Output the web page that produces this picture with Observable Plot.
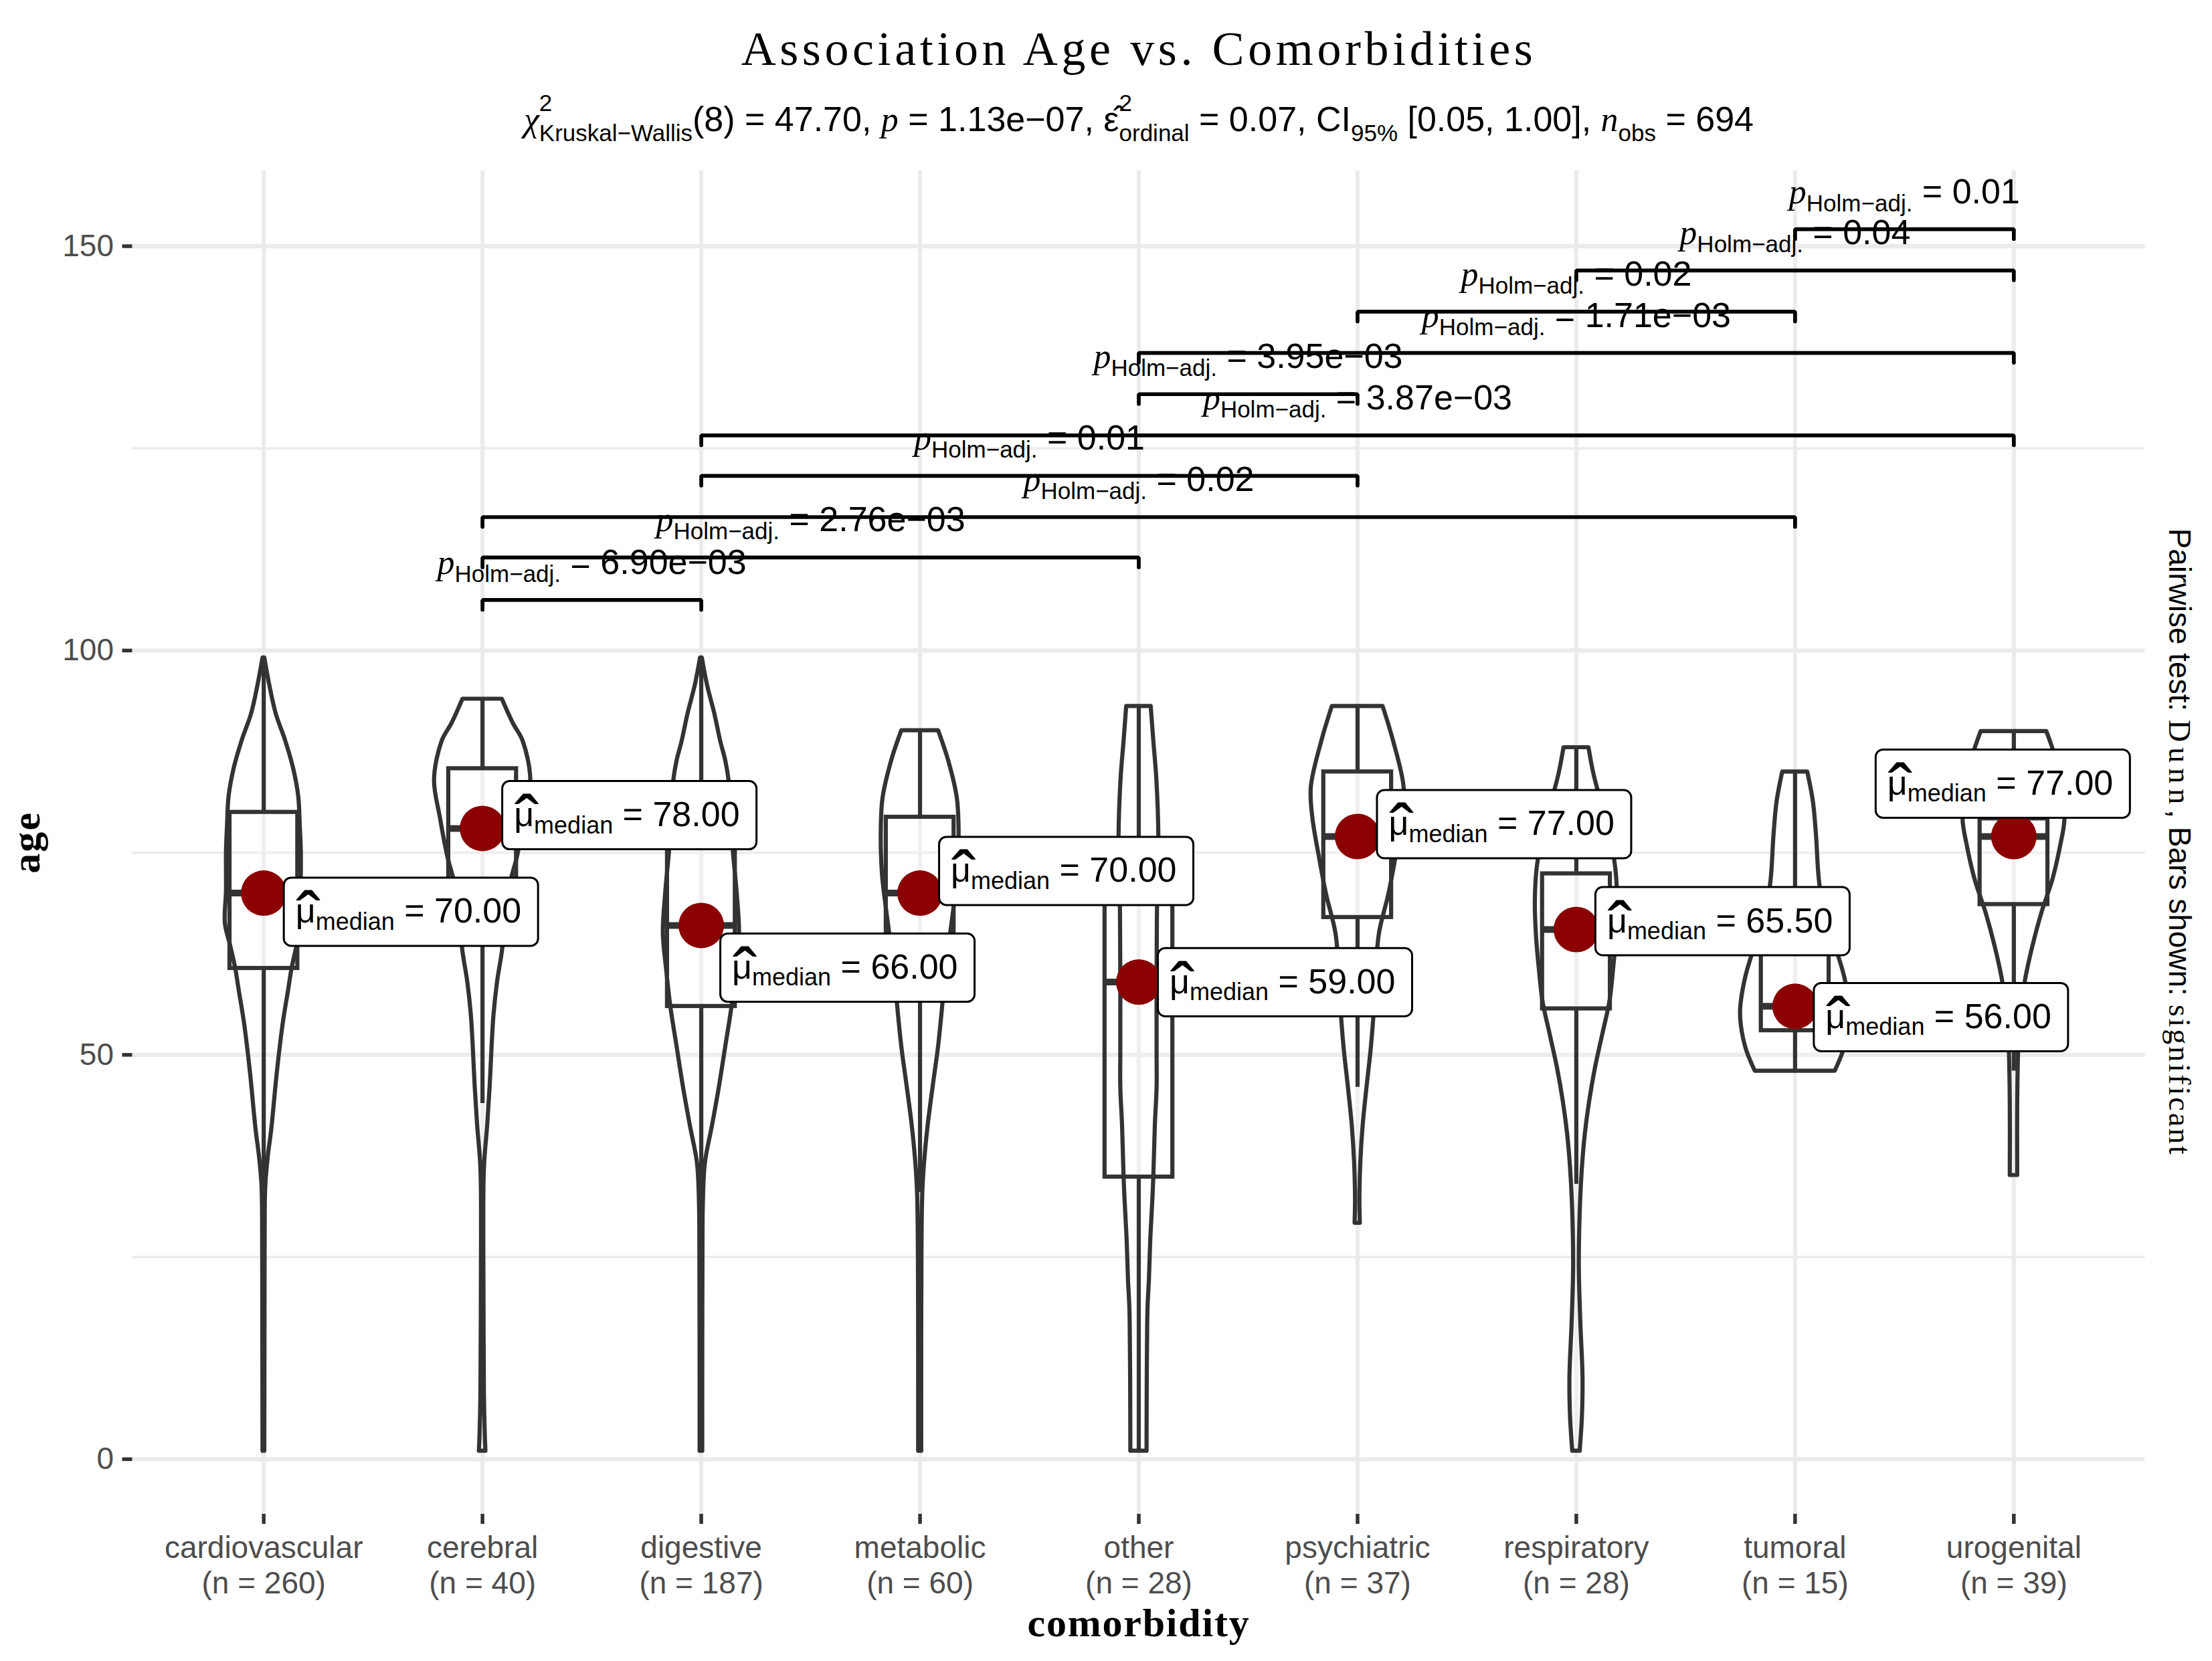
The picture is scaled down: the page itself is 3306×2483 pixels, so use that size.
<!DOCTYPE html>
<html><head><meta charset="utf-8">
<script src="https://cdn.jsdelivr.net/npm/d3@7"></script>
<script src="https://cdn.jsdelivr.net/npm/@observablehq/plot@0.6"></script>
<style>html,body{margin:0;padding:0;background:#fff;overflow:hidden} #chart svg{display:block}</style>
</head><body><div id="chart"></div>
<script>
// ---------------- DATA ----------------
const categories = ["cardiovascular","cerebral","digestive","metabolic","other","psychiatric","respiratory","tumoral","urogenital"];
const counts     = [260, 40, 187, 60, 28, 37, 28, 15, 39];
const medians    = [70, 78, 66, 70, 59, 77, 65.5, 56, 77];
const q1         = [60.7, 67, 56, 60, 34.9, 67, 55.7, 53, 68.6];
const q3         = [80, 85.4, 77, 79.4, 72, 85, 72.4, 63, 79.2];
const whiskerLow = [32, 44, 27, 33, 1, 46, 34, 48, 48];
const whiskerHigh= [99, 94, 99, 90, 93, 93, 88, 85, 90];
const yMajorTicks = [0, 50, 100, 150];
const yMinorTicks = [25, 75, 125];

// violin profiles: [age, half-width (in category units)]
const violinCardiovascular = [[99.1,0.004],[95.7,0.027],[92.2,0.056],[88.8,0.1],[85.4,0.136],[82,0.159],[78.5,0.166],[75.1,0.171],[70.3,0.171],[66.2,0.176],[63.5,0.152],[60.7,0.129],[58,0.113],[53.8,0.088],[47.7,0.061],[40.8,0.036],[37.4,0.02],[34,0.009],[30.5,0.006],[16.8,0.005],[1,0.004]];
const violinCerebral = [[94,0.09],[91,0.14],[88.8,0.185],[84,0.22],[79.3,0.193],[74.6,0.16],[70.3,0.118],[66.9,0.1],[63.2,0.092],[59,0.068],[55,0.052],[51,0.043],[46,0.034],[41.3,0.023],[37,0.01],[34,0.006],[20,0.006],[8,0.008],[3,0.012],[1,0.015]];
const violinDigestive = [[99.1,0.004],[95.7,0.028],[92.2,0.061],[88.8,0.088],[86.4,0.111],[84,0.126],[80,0.136],[75.5,0.145],[69.8,0.164],[65,0.174],[60.3,0.158],[56,0.14],[50.8,0.11],[46,0.082],[41.3,0.051],[36.6,0.018],[31.8,0.009],[25,0.007],[10,0.006],[1,0.006]];
const violinMetabolic = [[90.1,0.084],[86.4,0.13],[81.7,0.17],[76.9,0.178],[72.2,0.172],[67.6,0.152],[63.5,0.132],[59.3,0.114],[55.2,0.1],[51,0.084],[46.2,0.06],[41.4,0.037],[37,0.021],[33,0.012],[25,0.008],[10,0.007],[1,0.007]];
const violinOther = [[93.1,0.056],[88.8,0.068],[84,0.082],[76.9,0.091],[68.6,0.085],[60,0.083],[50,0.083],[46,0.083],[41.3,0.075],[34.9,0.068],[31.8,0.063],[27.1,0.054],[22.3,0.048],[19.1,0.042],[16.8,0.04],[10,0.038],[1,0.037]];
const violinPsychiatric = [[93.1,0.116],[88.8,0.164],[83.1,0.212],[79.3,0.205],[74.6,0.176],[69.8,0.142],[65.1,0.1],[60.3,0.084],[55.6,0.076],[50.8,0.062],[46.1,0.043],[41.3,0.025],[36.6,0.014],[32,0.01],[29.2,0.012]];
const violinRespiratory = [[88,0.057],[84.7,0.08],[81.3,0.113],[77.2,0.153],[73,0.18],[68.9,0.188],[64.8,0.183],[60.7,0.17],[56.6,0.153],[52.5,0.12],[48.4,0.087],[44.2,0.06],[40.1,0.04],[36,0.027],[30.5,0.017],[23.7,0.013],[16.8,0.02],[10,0.03],[5.2,0.027],[1,0.017]];
const violinTumoral = [[85,0.057],[81.3,0.083],[77.2,0.097],[71.7,0.11],[67.6,0.133],[63.5,0.183],[59.4,0.228],[55.2,0.25],[51.1,0.228],[48,0.183]];
const violinUrogenital = [[90,0.15],[86.8,0.19],[83.3,0.216],[79.2,0.233],[75.8,0.213],[71.7,0.178],[67.6,0.128],[63.5,0.087],[59.3,0.053],[55.2,0.032],[51.1,0.022],[44.2,0.017],[35.1,0.017]];
const violins = [violinCardiovascular, violinCerebral, violinDigestive, violinMetabolic, violinOther, violinPsychiatric, violinRespiratory, violinTumoral, violinUrogenital];

// pairwise comparisons (Dunn, Holm-adjusted)
const compFrom = ["cerebral","cerebral","cerebral","digestive","digestive","other","other","psychiatric","respiratory","tumoral"];
const compTo   = ["digestive","other","tumoral","psychiatric","urogenital","psychiatric","urogenital","tumoral","urogenital","urogenital"];
const pHolm    = ["6.90e−03","2.76e−03","0.02","0.01","3.87e−03","3.95e−03","1.71e−03","0.02","0.04","0.01"];
const bracketLevels = [106.25, 111.5, 116.5, 121.6, 126.6, 131.7, 136.8, 141.9, 147.0, 152.1];

const titleText = "Association Age vs. Comorbidities";
const xTitle = "comorbidity";
const yTitle = "age";

// ---------------- LAYOUT ----------------
const W = 3306, H = 2483;
const M = {left: 197.5, right: 100.5, top: 254.5, bottom: 220};
const xDomain = [-0.6, 8.6], yDomain = [-6.8, 159.35];
const pxPerCat = (W - M.left - M.right) / (xDomain[1] - xDomain[0]);
const pxPerAge = (H - M.top - M.bottom) / (yDomain[1] - yDomain[0]);
const boxHalf = 0.155;
const tipAge = 14.5 / pxPerAge;
// label placement (ggrepel result), px offsets of box top-left from the median point
const labelNudge = [[30.5,-22.7],[30,-70.3],[29,12.6],[29,-83.7],[29,-50.3],[29.5,-69],[29,-63],[28.5,-34.4],[-206,-129.5]];
const labelW = 380, labelH = 102;

const ink = "#333333";
const LW = 6.2;
const sans = "Liberation Sans, Arial, sans-serif";
const serif = "Liberation Serif, Times New Roman, serif";

// ---------------- DERIVED TABLES ----------------
const idx = c => categories.indexOf(c);
const violinRows = violins.flatMap((v, i) => v.map(([age, w]) => ({i, age, w})));
const boxes = categories.map((c, i) => ({i, c, med: medians[i], q1: q1[i], q3: q3[i], lo: whiskerLow[i], hi: whiskerHigh[i]}));
const labels = boxes.map(b => {
  const [dx, dy] = labelNudge[b.i];
  const x1 = b.i + dx / pxPerCat;
  const yTop = b.med - dy / pxPerAge;
  return {...b, x1, x2: x1 + labelW / pxPerCat, yTop, yBot: yTop - labelH / pxPerAge};
});
const brackets = compFrom.map((f, k) => ({k, a: idx(f), b: idx(compTo[k]), level: bracketLevels[k], p: pHolm[k]}));
const bracketPts = brackets.flatMap(d => [
  {k: d.k, x: d.a, y: d.level - tipAge},
  {k: d.k, x: d.a, y: d.level},
  {k: d.k, x: d.b, y: d.level},
  {k: d.k, x: d.b, y: d.level - tipAge}
]);

const grid = {stroke: "#EBEBEB", strokeOpacity: 1};

const plot = Plot.plot({
  width: W, height: H,
  marginLeft: M.left, marginRight: M.right, marginTop: M.top, marginBottom: M.bottom,
  x: {domain: xDomain},
  y: {domain: yDomain},
  style: {background: "white", fontFamily: sans, color: "black"},
  marks: [
    Plot.gridY({ticks: yMinorTicks, ...grid, strokeWidth: 3.6}),
    Plot.gridY({ticks: yMajorTicks, ...grid, strokeWidth: 6.5}),
    Plot.gridX({ticks: d3.range(categories.length), ...grid, strokeWidth: 6}),
    Plot.axisY({ticks: yMajorTicks, tickSize: 15, tickPadding: 13, stroke: ink, strokeWidth: 5.5, fill: "#4D4D4D", fontSize: 46, label: null}),
    Plot.axisX({ticks: d3.range(categories.length), tickSize: 15, stroke: ink, strokeWidth: 5.5, tickFormat: () => "", label: null}),
    Plot.text(categories, {x: (d, i) => i, text: (d, i) => `${d}\n(n = ${counts[i]})`, frameAnchor: "bottom", lineAnchor: "top", dy: 28.3, lineHeight: 1.152, fontSize: 46, fill: "#4D4D4D"}),
    // violins
    Plot.areaX(violinRows, {y: "age", x1: d => d.i - d.w, x2: d => d.i + d.w, z: "i", fill: "white", fillOpacity: 0.2, stroke: ink, strokeWidth: LW, strokeLinejoin: "round", curve: "catmull-rom"}),
    // boxplots
    Plot.ruleX(boxes, {x: "i", y1: "q3", y2: "hi", stroke: ink, strokeWidth: LW}),
    Plot.ruleX(boxes, {x: "i", y1: "lo", y2: "q1", stroke: ink, strokeWidth: LW}),
    Plot.rect(boxes, {x1: d => d.i - boxHalf, x2: d => d.i + boxHalf, y1: "q1", y2: "q3", fill: "none", stroke: ink, strokeWidth: LW}),
    Plot.ruleY(boxes, {y: "med", x1: d => d.i - boxHalf, x2: d => d.i + boxHalf, stroke: ink, strokeWidth: 10}),
    Plot.dot(boxes, {x: "i", y: "med", r: 34, fill: "#8B0000", stroke: null}),
    // median labels
    Plot.rect(labels, {x1: "x1", x2: "x2", y1: "yBot", y2: "yTop", fill: "white", stroke: "black", strokeWidth: 3, rx: 11}),
    Plot.text(labels, {x: "x1", y: "yTop", dx: 17, dy: 67, textAnchor: "start", lineAnchor: "bottom", fontSize: 52, fill: "black", text: d => `μmedian = ${d.med.toFixed(2)}`, ariaDescription: "median-label"}),
    Plot.text(labels, {x: "x1", y: "yTop", dx: 36.5, dy: 98, textAnchor: "middle", lineAnchor: "bottom", fontSize: 110, fill: "black", text: () => "ˆ"}),
    // pairwise brackets
    Plot.line(bracketPts, {x: "x", y: "y", z: "k", stroke: "black", strokeWidth: 5.7, strokeLinejoin: "miter", strokeLinecap: "round"}),
    Plot.text(brackets, {x: d => (d.a + d.b) / 2, y: "level", dy: -39, lineAnchor: "bottom", textAnchor: "middle", fontSize: 52, fill: "black", text: d => `pHolm−adj. = ${d.p}`, ariaDescription: "p-label"}),
    // titles
    Plot.text([titleText], {text: d => d, frameAnchor: "top", lineAnchor: "bottom", textAnchor: "middle", dy: 96 - M.top, fontSize: 72, fontFamily: serif, fill: "black", ariaDescription: "title"}),
    Plot.text(["subtitle"], {text: d => d, frameAnchor: "top", lineAnchor: "bottom", textAnchor: "middle", dy: 195 - M.top, fontSize: 52, fill: "black", ariaDescription: "subtitle"}),
    Plot.text([xTitle], {text: d => d, frameAnchor: "bottom", lineAnchor: "bottom", textAnchor: "middle", dy: 182, fontSize: 60, fontWeight: "bold", fontFamily: serif, fill: "black", ariaDescription: "xtitle"}),
    Plot.text([yTitle], {text: d => d, frameAnchor: "left", lineAnchor: "bottom", textAnchor: "middle", rotate: -90, dx: 58 - M.left, fontSize: 60, fontWeight: "bold", fontFamily: serif, fill: "black", ariaDescription: "ytitle"}),
    Plot.text(["caption"], {text: d => d, frameAnchor: "right", lineAnchor: "bottom", textAnchor: "middle", rotate: 90, dx: 36, fontSize: 46, fill: "black", ariaDescription: "right-caption"})
  ]
});
document.getElementById("chart").appendChild(plot);

// ---------------- RICH TEXT (sub/superscripts) ----------------
const SVGNS = "http://www.w3.org/2000/svg";
function setRich(el, segs) {
  el.textContent = "";
  el.style.whiteSpace = "pre";
  let cur = 0;
  for (const s of segs) {
    const ts = document.createElementNS(SVGNS, "tspan");
    const shift = s.shift ?? cur;
    if (shift !== cur) ts.setAttribute("dy", shift - cur);
    cur = shift;
    if (s.dx) ts.setAttribute("dx", s.dx);
    if (s.size) ts.setAttribute("font-size", s.size);
    if (s.family) ts.setAttribute("font-family", s.family);
    if (s.style) ts.setAttribute("font-style", s.style);
    if (s.weight) ts.setAttribute("font-weight", s.weight);
    if (s.ls) ts.setAttribute("letter-spacing", s.ls);
    ts.textContent = s.t;
    el.appendChild(ts);
  }
}
function sel(name) {
  const out = [];
  plot.querySelectorAll(`[aria-description="${name}"], [aria-label="${name}"]`).forEach(node => {
    if (node.tagName.toLowerCase() === "text") out.push(node);
    else node.querySelectorAll("text").forEach(t => out.push(t));
  });
  return out;
}
const MAIN = 52, SUB = 35;
sel("median-label").forEach((el, k) => setRich(el, [
  {t: "μ", size: MAIN},
  {t: "median", size: 36, shift: 10.4},
  {t: " = " + labels[k].med.toFixed(2), size: MAIN, shift: 0}
]));
sel("p-label").forEach((el, k) => setRich(el, [
  {t: "p", size: MAIN, family: serif, style: "italic"},
  {t: "Holm−adj.", size: SUB, shift: 12},
  {t: " = " + brackets[k].p, size: MAIN, shift: 0}
]));
sel("subtitle").forEach(el => setRich(el, [
  {t: "χ", size: MAIN, family: serif, style: "italic", shift: 0},
  {t: "2", size: SUB, shift: -30},
  {t: "Kruskal−Wallis", size: SUB, shift: 15, dx: -19.5},
  {t: "(8) = 47.70, ", size: MAIN, shift: 0},
  {t: "p", size: MAIN, family: serif, style: "italic", shift: 0},
  {t: " = 1.13e−07, ", size: MAIN, shift: 0},
  {t: "ε̂", size: MAIN, shift: 0},
  {t: "2", size: SUB, shift: -30},
  {t: "ordinal", size: SUB, shift: 15, dx: -19.5},
  {t: " = 0.07, CI", size: MAIN, shift: 0},
  {t: "95%", size: SUB, shift: 15},
  {t: " [0.05, 1.00], ", size: MAIN, shift: 0},
  {t: "n", size: MAIN, family: serif, style: "italic", shift: 0},
  {t: "obs", size: SUB, shift: 15},
  {t: " = 694", size: MAIN, shift: 0}
]));
sel("right-caption").forEach(el => setRich(el, [
  {t: "Pairwise test: ", size: 46},
  {t: "Dunn", size: 46, family: serif, ls: 8},
  {t: ", Bars shown: ", size: 46},
  {t: "significant", size: 46, family: serif, ls: 3}
]));
sel("title").forEach(el => el.setAttribute("letter-spacing", 5.6));
sel("xtitle").forEach(el => el.setAttribute("letter-spacing", 1.8));
sel("ytitle").forEach(el => el.setAttribute("letter-spacing", 2.2));
</script></body></html>
